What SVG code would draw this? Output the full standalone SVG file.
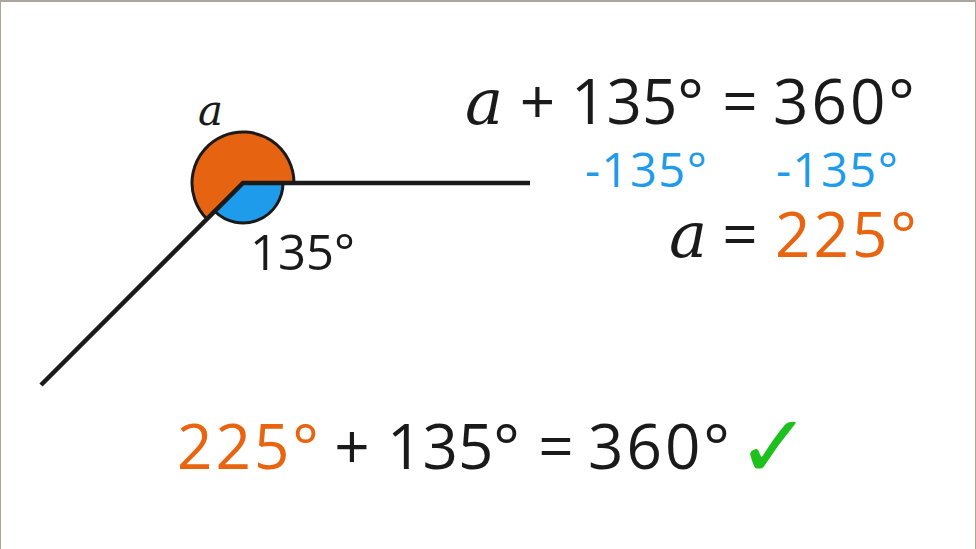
<svg xmlns="http://www.w3.org/2000/svg" width="976" height="549" viewBox="0 0 976 549">
  <style>
    .s { font-family: "Open Sans", "Noto Sans", sans-serif; fill: #1a1a1a; }
    .v { font-family: "DejaVu Serif", "Liberation Serif", serif; font-style: italic; fill: #1a1a1a; }
    .big { font-size: 62px; }
    .mid { font-size: 47px; letter-spacing: 1.5px; }
    .w { letter-spacing: 3px; }
    .or { fill: #E8640F; }
    .bl { fill: #1E9BEA; }
    .ln { fill: none; stroke: #1a1a1a; stroke-width: 4.5; }
  </style>
  <rect x="0" y="0" width="976" height="549" fill="#ffffff"/>
  <g id="border" fill="#ADA59B">
    <rect x="0" y="0" width="976" height="2"/>
    <rect x="0" y="0" width="1" height="549"/>
    <rect x="975" y="0" width="1" height="549"/>
  </g>
  <g id="angle">
    <path d="M243,183 L294,183 A51,51 0 1 0 206.94,219.06 Z" fill="#E66411" stroke="#1a1a1a" stroke-width="3"/>
    <path d="M243,183 L283,183 A40,40 0 0 1 214.72,211.28 Z" fill="#1E9BEA" stroke="#1a1a1a" stroke-width="3"/>
  </g>
  <g id="connectors">
    <polyline class="ln" points="530,183 243,183 41,385"/>
  </g>
  <g id="labels">
    <text class="v" x="198" y="125" font-size="42">a</text>
    <text class="s" x="250" y="270" font-size="49">135°</text>
  </g>
  <g id="eq1">
    <text class="v" x="465" y="124" font-size="64">a</text>
    <text class="s big" x="537.5" y="124" text-anchor="middle">+</text>
    <text class="s big" x="571" y="124">135°</text>
    <text class="s big" x="740" y="124" text-anchor="middle">=</text>
    <text class="s big w" x="773" y="124">360°</text>
  </g>
  <g id="eq2">
    <text class="s mid bl" x="585" y="187">-135°</text>
    <text class="s mid bl" x="776" y="187">-135°</text>
  </g>
  <g id="eq3">
    <text class="v" x="669" y="257" font-size="64">a</text>
    <text class="s big" x="740" y="257" text-anchor="middle">=</text>
    <text class="s big or w" x="775" y="257">225°</text>
  </g>
  <g id="check">
    <text class="s big or w" x="177" y="469">225°</text>
    <text class="s big" x="352" y="469" text-anchor="middle">+</text>
    <text class="s big" x="387" y="469">135°</text>
    <text class="s big" x="556" y="469" text-anchor="middle">=</text>
    <text class="s big w" x="588" y="469">360°</text>
    <text x="737" y="477" font-size="88" font-family="DejaVu Sans, sans-serif" fill="#1EC01E">✓</text>
  </g>
</svg>
